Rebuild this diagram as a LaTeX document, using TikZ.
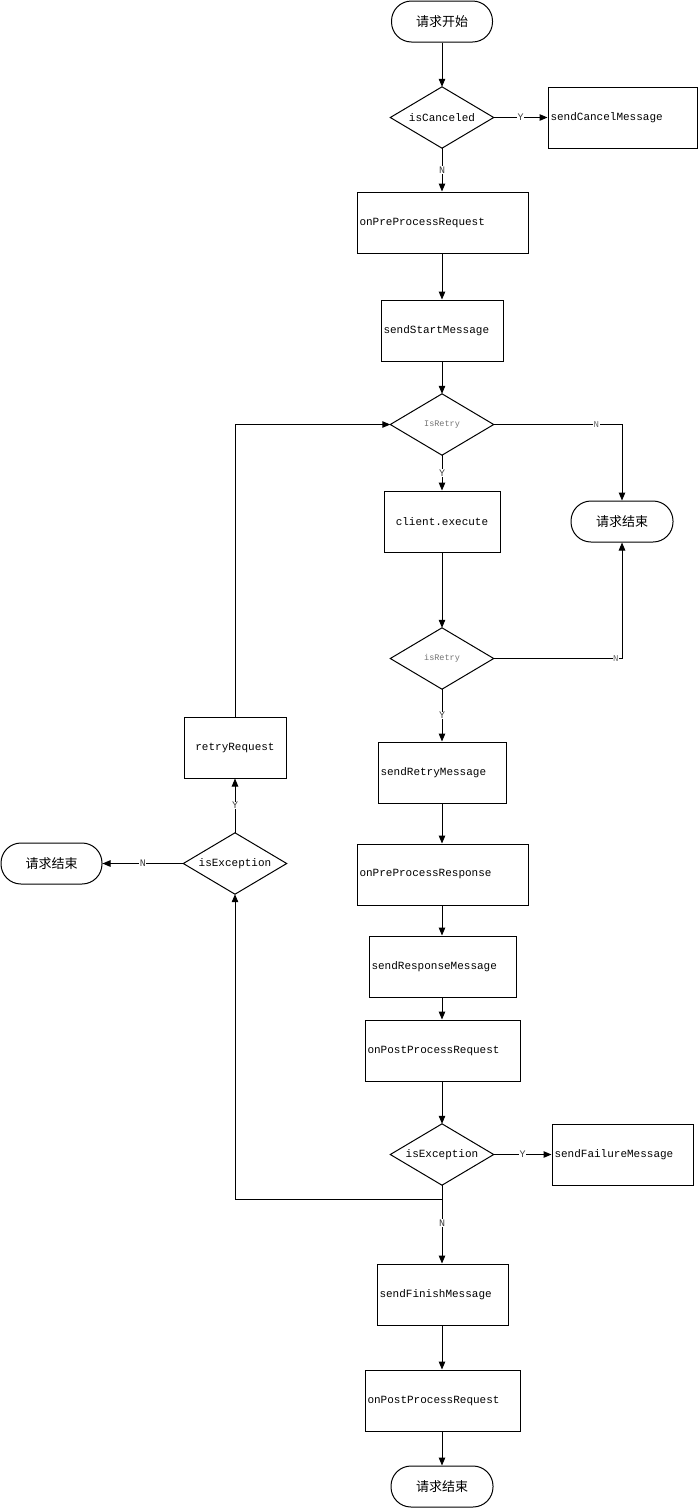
\documentclass[tikz,border=0pt]{standalone}
\usepackage{fontspec}
\setmonofont{Liberation Mono}
\newfontfamily\cjk{Noto Sans CJK SC}
\usetikzlibrary{arrows.meta}
\tikzset{
  x=1pt, y=-1pt,
  every node/.style={font=\ttfamily\fontsize{11}{13}\selectfont, text=black},
  pbox/.style={draw, line width=1pt, rectangle, minimum height=61pt, inner xsep=2.5pt, inner ysep=0pt, align=left, text width=#1},
  cbox/.style={draw, line width=1pt, rectangle, minimum height=61pt, inner xsep=2.5pt, inner ysep=0pt, align=center, text width=#1},
  term/.style={draw, line width=1pt, rectangle, rounded corners=20pt, minimum width=#1, minimum height=41pt, inner sep=0pt, font=\cjk\fontsize{13}{15}\selectfont},
  dia/.style={rectangle, minimum width=103pt, minimum height=61pt, inner sep=0pt},
  smalltxt/.style={font=\ttfamily\fontsize{8.5}{10}\selectfont, text=black!55},
  conn/.style={line width=1pt, -{Triangle[length=8pt,width=6.5pt]}},
  yn/.style={fill=white, inner sep=0.5pt, font=\ttfamily\fontsize{10}{11}\selectfont, text=black!75},
  ynsmall/.style={fill=white, inner sep=0.5pt, font=\ttfamily\fontsize{9}{10}\selectfont, text=black!60},
}
\begin{document}
\begin{tikzpicture}
\useasboundingbox[fill=white] (0,0) rectangle (698,1508);
% main column
\node[term=101pt] (start) at (442,21.5) {请求开始};
\node[dia] (c1) at (442,117.5) {isCanceled};
\node[pbox=144pt] (cancel) at (622.5,117.5) {sendCancelMessage};
\node[pbox=166pt] (pre) at (442.5,222.5) {onPreProcessRequest};
\node[pbox=117pt] (sstart) at (442,330.5) {sendStartMessage};
\node[dia, smalltxt] (ir1) at (442,424.5) {IsRetry};
\node[cbox=111pt] (exec) at (442,521.5) {client.execute};
\node[term=102pt] (endR) at (622,521.5) {请求结束};
\node[dia, smalltxt] (ir2) at (442,658.5) {isRetry};
\node[pbox=123pt] (sretry) at (442,772.5) {sendRetryMessage};
\node[pbox=166pt] (preresp) at (442.5,874.5) {onPreProcessResponse};
\node[pbox=142pt] (sresp) at (442.5,966.5) {sendResponseMessage};
\node[pbox=150pt] (post1) at (442.5,1050.5) {onPostProcessRequest};
\node[dia] (e1) at (442,1154.5) {isException};
\node[pbox=136pt] (fail) at (622.5,1154.5) {sendFailureMessage};
\node[pbox=126pt] (fin) at (442.5,1294.5) {sendFinishMessage};
\node[pbox=150pt] (post2) at (442.5,1400.5) {onPostProcessRequest};
\node[term=102pt] (endB) at (442,1486.5) {请求结束};
% left column
\node[cbox=97pt] (retry) at (235,747.5) {retryRequest};
\node[dia] (e2) at (235,863.5) {isException};
\node[term=101pt] (endL) at (51.5,863.5) {请求结束};
% diamonds outlines
\foreach \n in {c1,ir1,ir2,e1,e2}
  \draw[line width=1pt] (\n.north) -- (\n.east) -- (\n.south) -- (\n.west) -- cycle;
% connectors
\draw[conn] (start) -- (c1);
\draw[conn] (c1.east) -- node[yn]{Y} (cancel.west);
\draw[conn] (c1.south) -- node[yn]{N} (pre.north -| c1.south);
\draw[conn] (pre.south -| c1.south) -- (sstart.north -| c1.south);
\draw[conn] (sstart.south -| c1.south) -- (ir1.north);
\draw[conn] (ir1.east) -| node[ynsmall, pos=0.4]{N} (endR.north);
\draw[conn] (ir1.south) -- node[yn]{Y} (exec.north);
\draw[conn] (exec.south) -- (ir2.north);
\draw[conn] (ir2.east) -| node[ynsmall, pos=0.476]{N} (endR.south);
\draw[conn] (ir2.south) -- node[yn]{Y} (sretry.north -| ir2.south);
\draw[conn] (sretry.south -| ir2.south) -- (preresp.north -| ir2.south);
\draw[conn] (preresp.south -| ir2.south) -- (sresp.north -| ir2.south);
\draw[conn] (sresp.south -| ir2.south) -- (post1.north -| ir2.south);
\draw[conn] (post1.south -| ir2.south) -- (e1.north);
\draw[conn] (e1.east) -- node[yn]{Y} (fail.west);
\draw[conn] (e1.south) -- node[yn, pos=0.48]{N} (fin.north -| e1.south);
\coordinate (br) at (442,1199);
\draw[conn] (br) -| (e2.south);
\draw[conn] (fin.south -| e1.south) -- (post2.north -| e1.south);
\draw[conn] (post2.south -| e1.south) -- (endB.north);
\draw[conn] (e2.north) -- node[yn]{Y} (retry.south);
\draw[conn] (e2.west) -- node[yn]{N} (endL.east);
\draw[conn] (retry.north) |- (ir1.west);
\end{tikzpicture}
\end{document}
